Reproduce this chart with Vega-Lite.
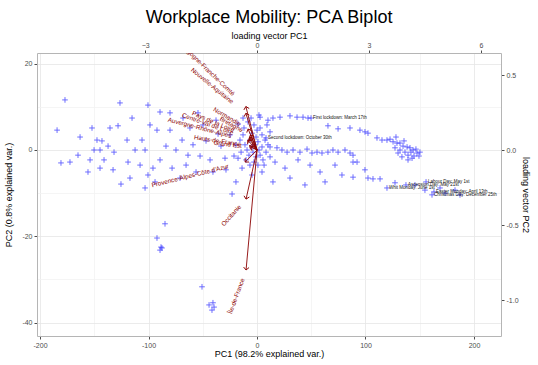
{
  "$schema": "https://vega.github.io/schema/vega-lite/v6.json",
  "width": 464,
  "height": 283,
  "autosize": {"type": "none"},
  "padding": {"left": 37, "top": 53, "right": 37, "bottom": 29},
  "background": "white",
  "title": {"text": "Workplace Mobility: PCA Biplot", "fontSize": 18, "font": "Liberation Sans", "fontWeight": "normal", "color": "black", "anchor": "middle", "frame": "group", "offset": 4},
  "config": {
    "view": {"stroke": null},
    "axis": {"labelFont": "Liberation Sans", "titleFont": "Liberation Sans", "labelFontSize": 7, "labelColor": "#4d4d4d", "titleFontSize": 9, "titleFontWeight": "normal", "titleColor": "black", "domainColor": "#b5b5b5", "tickColor": "#4d4d4d", "tickSize": 3, "labelPadding": 2, "gridColor": "#e8e8e8", "gridWidth": 0.8}
  },
  "datasets": {
    "scores": [
      {"pc1": -177.0, "pc2": 11.6}, {"pc1": -184.3, "pc2": 4.6}, {"pc1": -163.1, "pc2": 3.0}, {"pc1": -152.1, "pc2": 5.1},
      {"pc1": -144.7, "pc2": 0}, {"pc1": -141.0, "pc2": -2.3}, {"pc1": -135.5, "pc2": 5.1}, {"pc1": -128.1, "pc2": 5.6},
      {"pc1": -126.3, "pc2": 10.9}, {"pc1": -119.8, "pc2": 2.3}, {"pc1": -115.2, "pc2": 7.4}, {"pc1": -100.5, "pc2": 10.4},
      {"pc1": -144.7, "pc2": -4.2}, {"pc1": -153.9, "pc2": -2.3}, {"pc1": -172.4, "pc2": -2.8}, {"pc1": -165.0, "pc2": -1.2},
      {"pc1": -155.8, "pc2": -5.1}, {"pc1": -132.7, "pc2": -4.6}, {"pc1": -125.4, "pc2": -7.9}, {"pc1": -117.1, "pc2": -6.5},
      {"pc1": -107.8, "pc2": -3.5}, {"pc1": -103.2, "pc2": 0}, {"pc1": -98.6, "pc2": 5.8}, {"pc1": -92.2, "pc2": 4.6},
      {"pc1": -89.4, "pc2": 8.8}, {"pc1": -142.9, "pc2": 2.1}, {"pc1": -137.3, "pc2": 0.9}, {"pc1": -131.8, "pc2": -0.5},
      {"pc1": -150.2, "pc2": 0}, {"pc1": -147.5, "pc2": 2.3}, {"pc1": -180.7, "pc2": -3.0}, {"pc1": -118.9, "pc2": -2.8},
      {"pc1": -112.4, "pc2": 0}, {"pc1": -106.0, "pc2": 2.3}, {"pc1": -100.5, "pc2": -5.8}, {"pc1": -95.9, "pc2": -4.2},
      {"pc1": -103.2, "pc2": -8.8}, {"pc1": -94.0, "pc2": -7.4}, {"pc1": -89.4, "pc2": -2.3}, {"pc1": -83.9, "pc2": 0.9},
      {"pc1": -80.2, "pc2": 4.6}, {"pc1": -80.2, "pc2": 8.6},
      {"pc1": -74.7, "pc2": 0}, {"pc1": -69.1, "pc2": 2.3}, {"pc1": -65.4, "pc2": -3.5}, {"pc1": -61.8, "pc2": 5.1},
      {"pc1": -56.2, "pc2": -5.1}, {"pc1": -52.5, "pc2": -1.4}, {"pc1": -47.0, "pc2": 2.1}, {"pc1": -43.3, "pc2": -2.3},
      {"pc1": -37.8, "pc2": 6.9}, {"pc1": -33.2, "pc2": 0.9}, {"pc1": -28.6, "pc2": -4.6}, {"pc1": -24.9, "pc2": 3.5},
      {"pc1": -21.2, "pc2": -1.4}, {"pc1": -17.5, "pc2": 6.0}, {"pc1": -19.4, "pc2": -7.4}, {"pc1": -40.6, "pc2": -5.1},
      {"pc1": -71.0, "pc2": -6.5}, {"pc1": -59.0, "pc2": 1.2}, {"pc1": -49.8, "pc2": 5.8}, {"pc1": -29.5, "pc2": -1.9},
      {"pc1": -35.9, "pc2": 3.7}, {"pc1": -13.8, "pc2": -4.2}, {"pc1": -63.6, "pc2": -1.2}, {"pc1": -78.3, "pc2": -4.2},
      {"pc1": -68.2, "pc2": 7.4}, {"pc1": -54.4, "pc2": 8.6},
      {"pc1": -15.7, "pc2": 2.3}, {"pc1": -12.9, "pc2": 3.5}, {"pc1": -11.1, "pc2": 1.2}, {"pc1": -9.2, "pc2": 0},
      {"pc1": -7.4, "pc2": -1.2}, {"pc1": -6.5, "pc2": 2.3}, {"pc1": -4.6, "pc2": 0.7}, {"pc1": -3.7, "pc2": -0.5},
      {"pc1": -1.8, "pc2": 1.2}, {"pc1": -0.9, "pc2": -1.6}, {"pc1": 0.9, "pc2": 1.9}, {"pc1": 1.8, "pc2": 0},
      {"pc1": 2.8, "pc2": -1.2}, {"pc1": 4.6, "pc2": 0.7}, {"pc1": 5.5, "pc2": -2.3}, {"pc1": 7.4, "pc2": 2.3},
      {"pc1": 8.3, "pc2": -0.5}, {"pc1": 10.1, "pc2": 1.2}, {"pc1": 12.0, "pc2": -1.6}, {"pc1": -12.0, "pc2": 5.1},
      {"pc1": -8.3, "pc2": 6.5}, {"pc1": -5.5, "pc2": 7.4}, {"pc1": -2.8, "pc2": 5.8}, {"pc1": 0, "pc2": 4.6},
      {"pc1": 2.8, "pc2": 5.1}, {"pc1": 4.6, "pc2": 3.5}, {"pc1": -10.1, "pc2": -2.3}, {"pc1": -6.5, "pc2": -3.5},
      {"pc1": -2.8, "pc2": -2.8}, {"pc1": 0.9, "pc2": -3.5}, {"pc1": 6.5, "pc2": -3.5}, {"pc1": -14.7, "pc2": -0.5},
      {"pc1": -19.4, "pc2": 1.2}, {"pc1": -17.5, "pc2": -1.9}, {"pc1": -4.6, "pc2": 3.9}, {"pc1": -0.9, "pc2": 3.0},
      {"pc1": 9.2, "pc2": 5.8}, {"pc1": 12.0, "pc2": 4.2}, {"pc1": -12.9, "pc2": 7.4}, {"pc1": 1.8, "pc2": 8.1},
      {"pc1": 2.8, "pc2": 7.6}, {"pc1": 10.1, "pc2": 6.9}, {"pc1": 14.7, "pc2": 7.4}, {"pc1": 21.2, "pc2": 7.6},
      {"pc1": 30.4, "pc2": 7.9}, {"pc1": 36.9, "pc2": 7.6}, {"pc1": 42.4, "pc2": 7.6}, {"pc1": 47.0, "pc2": 7.4},
      {"pc1": 49.8, "pc2": 7.4, "label": "First lockdown: March 17th"},
      {"pc1": 65.4, "pc2": 5.6}, {"pc1": 74.7, "pc2": 4.9}, {"pc1": 85.7, "pc2": 5.1},
      {"pc1": 94.9, "pc2": 4.6}, {"pc1": 99.5, "pc2": 4.2}, {"pc1": 102.3, "pc2": 3.9}, {"pc1": 110.6, "pc2": 2.8},
      {"pc1": 115.2, "pc2": 2.3}, {"pc1": 119.8, "pc2": 2.3}, {"pc1": 122.6, "pc2": 2.5}, {"pc1": 125.4, "pc2": 1.9},
      {"pc1": 129.0, "pc2": 1.6}, {"pc1": 131.8, "pc2": 1.6}, {"pc1": 138.3, "pc2": 0.7}, {"pc1": 141.0, "pc2": 0.5},
      {"pc1": 143.8, "pc2": 0}, {"pc1": 147.5, "pc2": -0.7},
      {"pc1": 131.8, "pc2": 0}, {"pc1": 134.6, "pc2": 0.9}, {"pc1": 136.4, "pc2": -0.5}, {"pc1": 139.2, "pc2": -1.2},
      {"pc1": 141.9, "pc2": -0.5}, {"pc1": 144.7, "pc2": -1.4}, {"pc1": 146.5, "pc2": 0.2}, {"pc1": 149.3, "pc2": -1.4},
      {"pc1": 127.2, "pc2": 0.5}, {"pc1": 130.0, "pc2": -0.7}, {"pc1": 133.6, "pc2": -1.6}, {"pc1": 139.2, "pc2": -2.3},
      {"pc1": 142.9, "pc2": -1.9}, {"pc1": 150.2, "pc2": -0.5}, {"pc1": 128.1, "pc2": 3.0}, {"pc1": 135.5, "pc2": 2.1},
      {"pc1": 8.3, "pc2": 2.8, "label": "Second lockdown: October 30th"},
      {"pc1": 12.0, "pc2": 0.7}, {"pc1": 18.4, "pc2": 0.5}, {"pc1": 23.0, "pc2": 0}, {"pc1": 27.7, "pc2": -0.5},
      {"pc1": 33.2, "pc2": 0}, {"pc1": 39.6, "pc2": -0.5}, {"pc1": 46.1, "pc2": 0.2}, {"pc1": 50.7, "pc2": -0.7},
      {"pc1": 55.3, "pc2": -0.5}, {"pc1": 59.9, "pc2": -0.7}, {"pc1": 65.4, "pc2": -0.5}, {"pc1": 70.0, "pc2": 0},
      {"pc1": 74.7, "pc2": -0.5}, {"pc1": 81.1, "pc2": 0}, {"pc1": 85.7, "pc2": -0.7}, {"pc1": 88.5, "pc2": -1.2},
      {"pc1": 88.5, "pc2": -2.8}, {"pc1": 92.2, "pc2": -2.8}, {"pc1": 99.5, "pc2": -4.6}, {"pc1": 88.5, "pc2": -6.3},
      {"pc1": 102.3, "pc2": -6.5}, {"pc1": 106.9, "pc2": -6.7}, {"pc1": 113.4, "pc2": -6.7},
      {"pc1": 16.6, "pc2": -2.8}, {"pc1": 25.8, "pc2": -4.2}, {"pc1": 37.8, "pc2": -2.3}, {"pc1": 48.9, "pc2": -3.5},
      {"pc1": 58.1, "pc2": -5.1}, {"pc1": 71.9, "pc2": -3.5}, {"pc1": 78.3, "pc2": -5.8}, {"pc1": 30.4, "pc2": -6.5},
      {"pc1": 44.2, "pc2": -8.1}, {"pc1": 62.7, "pc2": -7.4}, {"pc1": 4.6, "pc2": -5.1},
      {"pc1": 127.2, "pc2": -7.6}, {"pc1": 145.6, "pc2": -8.1}, {"pc1": 168.7, "pc2": -8.8}, {"pc1": 182.5, "pc2": -9.3},
      {"pc1": 173.3, "pc2": -10.0}, {"pc1": 154.8, "pc2": -9.3}, {"pc1": 187.1, "pc2": -10.4},
      {"pc1": 155.8, "pc2": -7.4, "label": "Labour Day: May 1st"},
      {"pc1": 137.3, "pc2": -8.1, "label": "Ascension Day: May 21st"},
      {"pc1": 119.8, "pc2": -8.8, "label": "Whit Monday: June 1st"},
      {"pc1": 163.1, "pc2": -9.7, "label": "Easter Monday: April 13th"},
      {"pc1": 161.3, "pc2": -10.4, "label": "Christmas Day: December 25th"},
      {"pc1": -84.8, "pc2": -17.1}, {"pc1": -92.2, "pc2": -20.4}, {"pc1": -88.5, "pc2": -22.5}, {"pc1": -87.6, "pc2": -22.7},
      {"pc1": -89.4, "pc2": -23.2}, {"pc1": -50.7, "pc2": -31.7}, {"pc1": -40.6, "pc2": -35.4}, {"pc1": -39.6, "pc2": -36.4},
      {"pc1": -41.5, "pc2": -37.1}, {"pc1": -44.2, "pc2": -35.9}, {"pc1": -23.0, "pc2": -10.2}, {"pc1": -4.6, "pc2": -5.8},
      {"pc1": 14.7, "pc2": -7.4}
    ],
    "loadings": [
      {"region": "Bourgogne-Franche-Comté", "L1": -0.30, "L2": 0.29},
      {"region": "Nouvelle-Aquitaine", "L1": -0.30, "L2": 0.245},
      {"region": "Normandie", "L1": -0.24, "L2": 0.14},
      {"region": "Pays de la Loire", "L1": -0.20, "L2": 0.085},
      {"region": "Auvergne-Rhône-Alpes", "L1": -0.25, "L2": 0.065},
      {"region": "Hauts-de-France", "L1": -0.20, "L2": 0.03},
      {"region": "Centre-Val de Loire", "L1": -0.21, "L2": 0.075},
      {"region": "Grand Est", "L1": -0.17, "L2": 0.02},
      {"region": "Bretagne", "L1": -0.18, "L2": 0.10},
      {"region": "Provence-Alpes-Côte d'Azur", "L1": -0.32, "L2": -0.08},
      {"region": "Occitanie", "L1": -0.295, "L2": -0.327},
      {"region": "Île-de-France", "L1": -0.295, "L2": -0.80}
    ]
  },
  "layer": [
    {
      "data": {"name": "scores"},
      "encoding": {
        "x": {"field": "pc1", "type": "quantitative", "scale": {"domain": [-202.8, 224.9], "nice": false, "zero": false},
          "axis": {"orient": "bottom", "values": [-200, -150, -100, -50, 0, 50, 100, 150, 200], "labelExpr": "datum.value % 100 === 0 ? '' + datum.value : ''",
            "tickColor": {"condition": {"test": "datum.value % 100 !== 0", "value": "transparent"}, "value": "#4d4d4d"},
            "gridColor": {"condition": {"test": "datum.value % 100 !== 0", "value": "#f3f3f3"}, "value": "#e6e6e6"},
            "title": "PC1 (98.2% explained var.)", "titlePadding": 1}},
        "y": {"field": "pc2", "type": "quantitative", "scale": {"domain": [-43.1, 22.47], "nice": false, "zero": false},
          "axis": {"orient": "left", "values": [-40, -30, -20, -10, 0, 10, 20], "labelExpr": "datum.value % 20 === 0 ? '' + datum.value : ''",
            "tickColor": {"condition": {"test": "datum.value % 20 !== 0", "value": "transparent"}, "value": "#4d4d4d"},
            "gridColor": {"condition": {"test": "datum.value % 20 !== 0", "value": "#f3f3f3"}, "value": "#e6e6e6"},
            "title": "PC2 (0.8% explained var.)", "titlePadding": 8}}
      },
      "layer": [
        {"mark": {"type": "point", "shape": "M-1,0L1,0M0,-1L0,1", "filled": false, "stroke": "#2a2aff", "strokeWidth": 0.9, "opacity": 0.75, "size": 32}},
        {"transform": [{"filter": "isValid(datum.label)"}],
         "mark": {"type": "text", "align": "left", "baseline": "middle", "dx": 2, "fontSize": 4.5, "font": "Liberation Sans", "color": "#111111"},
         "encoding": {"text": {"field": "label"}}}
      ]
    },
    {
      "data": {"name": "loadings"},
      "transform": [
        {"calculate": "atan2(datum.L1 * 37.3, datum.L2 * 150) * 180 / PI", "as": "headAngle"},
        {"calculate": "-atan(datum.L2 / datum.L1) * 180 / PI", "as": "textAngle"}
      ],
      "encoding": {
        "x": {"field": "L1", "type": "quantitative", "scale": {"domain": [-5.9, 6.54], "nice": false, "zero": false},
          "axis": {"orient": "top", "values": [-3, 0, 3, 6], "grid": false, "title": "loading vector PC1", "titlePadding": 1}},
        "y": {"field": "L2", "type": "quantitative", "scale": {"domain": [-1.24, 0.647], "nice": false, "zero": false},
          "axis": {"orient": "right", "values": [-1, -0.5, 0, 0.5], "grid": false, "labelExpr": "datum.value === 0 ? '0.0' : datum.value === -1 ? '-1.0' : '' + datum.value", "title": "loading vector PC2", "titleAngle": 90, "titlePadding": 2}}
      },
      "layer": [
        {"mark": {"type": "rule", "color": "#8b0000", "strokeWidth": 0.9},
         "encoding": {"x2": {"datum": 0}, "y2": {"datum": 0}}},
        {"mark": {"type": "point", "shape": "M-1,1L0,0L1,1", "filled": false, "stroke": "#8b0000", "strokeWidth": 0.9, "size": 30, "opacity": 1},
         "encoding": {"angle": {"field": "headAngle", "type": "quantitative", "scale": null}}},
        {"transform": [{"filter": "length(datum.region) > 15"}],
         "mark": {"type": "text", "align": "right", "baseline": "middle", "dx": -17, "fontSize": 6.3, "font": "Liberation Sans", "color": "#8b0000", "clip": true},
         "encoding": {"text": {"field": "region"}, "angle": {"field": "textAngle", "type": "quantitative", "scale": null}}},
        {"transform": [{"filter": "length(datum.region) <= 15"}],
         "mark": {"type": "text", "align": "right", "baseline": "middle", "dx": -9, "fontSize": 6.3, "font": "Liberation Sans", "color": "#8b0000", "clip": true},
         "encoding": {"text": {"field": "region"}, "angle": {"field": "textAngle", "type": "quantitative", "scale": null}}}
      ]
    }
  ],
  "resolve": {"scale": {"x": "independent", "y": "independent"}}
}
